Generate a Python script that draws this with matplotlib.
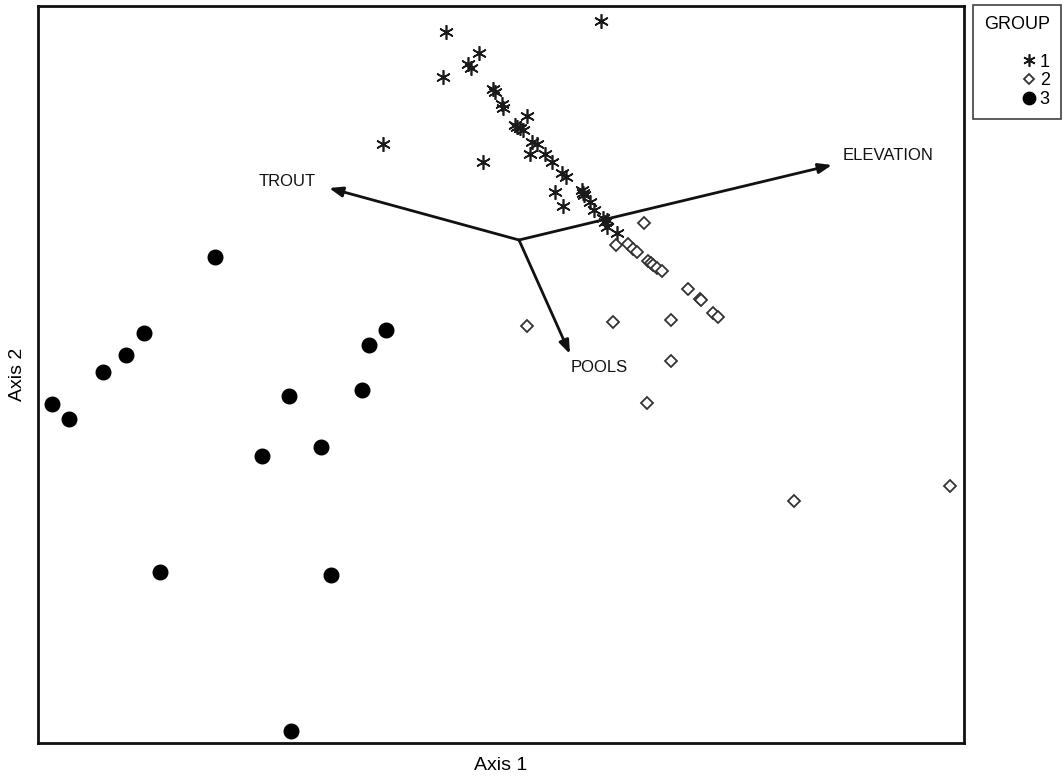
import matplotlib
matplotlib.use("Agg")
import matplotlib.pyplot as plt

plt.rcParams["font.family"] = ["Liberation Sans", "DejaVu Sans"]

# Ordination scores (Axis 1, Axis 2)
g1_x = [-0.73, 0.82, -0.40, -0.51, -0.48, -0.76, -0.26, -0.24, -0.17, -0.16, 0.08,
        -0.04, 0.01, 0.04, -0.02, -1.36, 0.13, 0.18, 0.11, 0.26, 0.33, -0.36,
        0.43, 0.47, 0.63, 0.65, 0.64, 0.36, 0.71, 0.44, 0.75, 0.84, 0.86, 0.88,
        0.88, 0.98]
g1_y = [2.08, 2.19, 1.87, 1.76, 1.72, 1.63, 1.51, 1.48, 1.36, 1.32, 1.24,
        1.15, 1.12, 1.10, 1.13, 0.96, 0.98, 0.96, 0.86, 0.86, 0.78, 0.78,
        0.67, 0.63, 0.50, 0.45, 0.47, 0.48, 0.38, 0.34, 0.30, 0.22, 0.18, 0.20,
        0.13, 0.07]

g2_x = [1.25, 0.97, 1.09, 1.14, 1.18, 1.29, 1.32, 1.34, 1.38, 1.43, 1.69,
        1.81, 1.82, 1.94, 1.99, 0.94, 1.52, 0.08, 1.52, 1.28, 2.75, 4.31]
g2_y = [0.17, -0.05, -0.04, -0.09, -0.12, -0.21, -0.23, -0.25, -0.28, -0.31, -0.49,
        -0.59, -0.60, -0.73, -0.77, -0.82, -0.80, -0.86, -1.21, -1.63, -2.61, -2.46]

g3_x = [-3.04, -3.75, -3.93, -4.16, -4.67, -4.50, -1.33, -1.50, -1.57, -2.30,
        -1.98, -2.57, -3.59, -1.88, -2.28]
g3_y = [-0.17, -0.93, -1.15, -1.32, -1.64, -1.79, -0.90, -1.05, -1.50, -1.56,
        -2.07, -2.16, -3.32, -3.35, -4.91]

# Biplot vectors
vec_names = ["TROUT", "ELEVATION", "POOLS"]
vec_x = [-1.90, 3.13, 0.51]
vec_y = [0.52, 0.75, -1.14]

fig = plt.figure(figsize=(10.63, 7.76), dpi=100)
ax = fig.add_axes([38/1063, 33/776, 926/1063, 737/776])
ax.set_xlim(-4.81, 4.45)
ax.set_ylim(-5.03, 2.34)

star = (6, 2, 0)
ax.plot(g1_x, g1_y, linestyle="none", marker=star, markersize=10.5,
        markeredgewidth=1.2, color="#1a1a1a", label="1", zorder=3)
ax.plot(g2_x, g2_y, linestyle="none", marker="D", markersize=6.5,
        markerfacecolor="white", markeredgecolor="#333333", markeredgewidth=1.3,
        label="2", zorder=3)
ax.plot(g3_x, g3_y, linestyle="none", marker="o", markersize=10.5,
        color="black", label="3", zorder=3)

label_off = {"TROUT": (-0.42, 0.06, "center", "center"),
             "ELEVATION": (0.56, 0.1, "center", "center"),
             "POOLS": (0.29, -0.13, "center", "center")}
for name, vx, vy in zip(vec_names, vec_x, vec_y):
    ax.annotate("", xy=(vx, vy), xytext=(0, 0),
                arrowprops=dict(arrowstyle="-|>,head_length=0.8,head_width=0.3",
                                color="#111111", lw=2.0, shrinkA=0, shrinkB=0),
                zorder=2)
    dx, dy, ha, va = label_off[name]
    ax.text(vx + dx, vy + dy, name, fontsize=12, ha=ha, va=va, color="#111111")

ax.set_xticks([])
ax.set_yticks([])
for s in ax.spines.values():
    s.set_linewidth(2)
    s.set_color("#111111")

ax.set_xlabel("Axis 1", fontsize=14, labelpad=10)
ax.set_ylabel("Axis 2", fontsize=14, labelpad=9)

leg = ax.legend(title="GROUP", loc="upper left", bbox_to_anchor=(1.0097, 1.0014),
                borderaxespad=0.0, alignment="right",
                frameon=True, fancybox=False, fontsize=13, title_fontsize=13,
                handletextpad=0.15, handlelength=0.9, borderpad=0.6,
                labelspacing=0.1, markerscale=0.85)
leg._legend_box.sep = 15
leg.get_frame().set_edgecolor("#111111")
leg.get_frame().set_linewidth(1.2)

fig.savefig("out.png", dpi=100)
